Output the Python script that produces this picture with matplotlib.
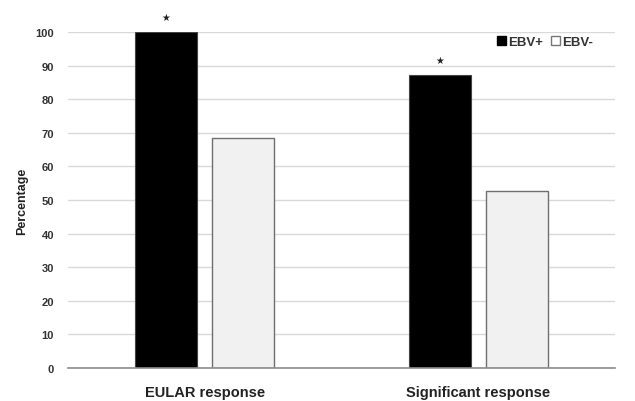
import matplotlib
matplotlib.use("Agg")
import matplotlib.pyplot as plt
import numpy as np
from matplotlib.patches import Patch

# data
categories = ["EULAR response", "Significant response"]
ebv_pos = [100, 87.3]
ebv_neg = [68.5, 52.7]
significant = [True, True]
yticks = list(range(0, 101, 10))

GRID = "#d9d9d9"
TEXT = "#333333"

plt.rcParams.update({
    "font.family": ["Liberation Sans", "DejaVu Sans"],
    "font.weight": "bold",
})

fig = plt.figure(figsize=(6.35, 4.02), dpi=100)
ax = fig.add_axes([0.107, 0.082, 0.862, 0.836])

x = np.arange(len(categories))
w = 0.227
off = 0.141

ax.bar(x - off, ebv_pos, width=w, color="black", edgecolor="#444444",
       linewidth=0.8, label="EBV+", zorder=3)
ax.bar(x + off, ebv_neg, width=w, color="#f1f1f1", edgecolor="#6f6f6f",
       linewidth=1.0, label="EBV-", zorder=3)

for xi, v, s in zip(x, ebv_pos, significant):
    if s:
        ax.text(xi - off, v + 3, "\u2605", ha="center", va="bottom",
                fontsize=7, color="#222222", family="DejaVu Sans",
                clip_on=False)

ax.set_xlim(-0.5, len(categories) - 0.5)
ax.set_ylim(0, 100)
ax.set_yticks(yticks)
ax.set_xticks(x)
ax.set_xticklabels(categories, fontsize=10.5, color="#222222", fontweight="bold")
ax.set_yticklabels([str(t) for t in yticks], fontsize=8, color=TEXT,
                   fontweight="bold")
ax.tick_params(axis="x", length=0, pad=12)
ax.tick_params(axis="y", length=0, pad=10)

ax.grid(axis="y", color=GRID, linewidth=1.0, zorder=0)
ax.set_axisbelow(True)
for sp in ["top", "right", "left"]:
    ax.spines[sp].set_visible(False)
ax.spines["bottom"].set_color("#8c8c8c")
ax.spines["bottom"].set_linewidth(1.2)
ax.spines["bottom"].set_zorder(4)

ax.set_ylabel("Percentage", fontsize=9, color="#222222", labelpad=5,
              fontweight="bold")

handles = [Patch(facecolor="black", edgecolor="black"),
           Patch(facecolor="white", edgecolor="#777777")]
ax.legend(handles, ["EBV+", "EBV-"], ncol=2, frameon=False,
          loc="center", bbox_to_anchor=(0.872, 0.97),
          handlelength=0.7, handleheight=0.7, handletextpad=0.15,
          columnspacing=0.6, prop={"size": 9.5, "weight": "bold"},
          labelcolor="#333333")

fig.savefig("out.png", dpi=100)
